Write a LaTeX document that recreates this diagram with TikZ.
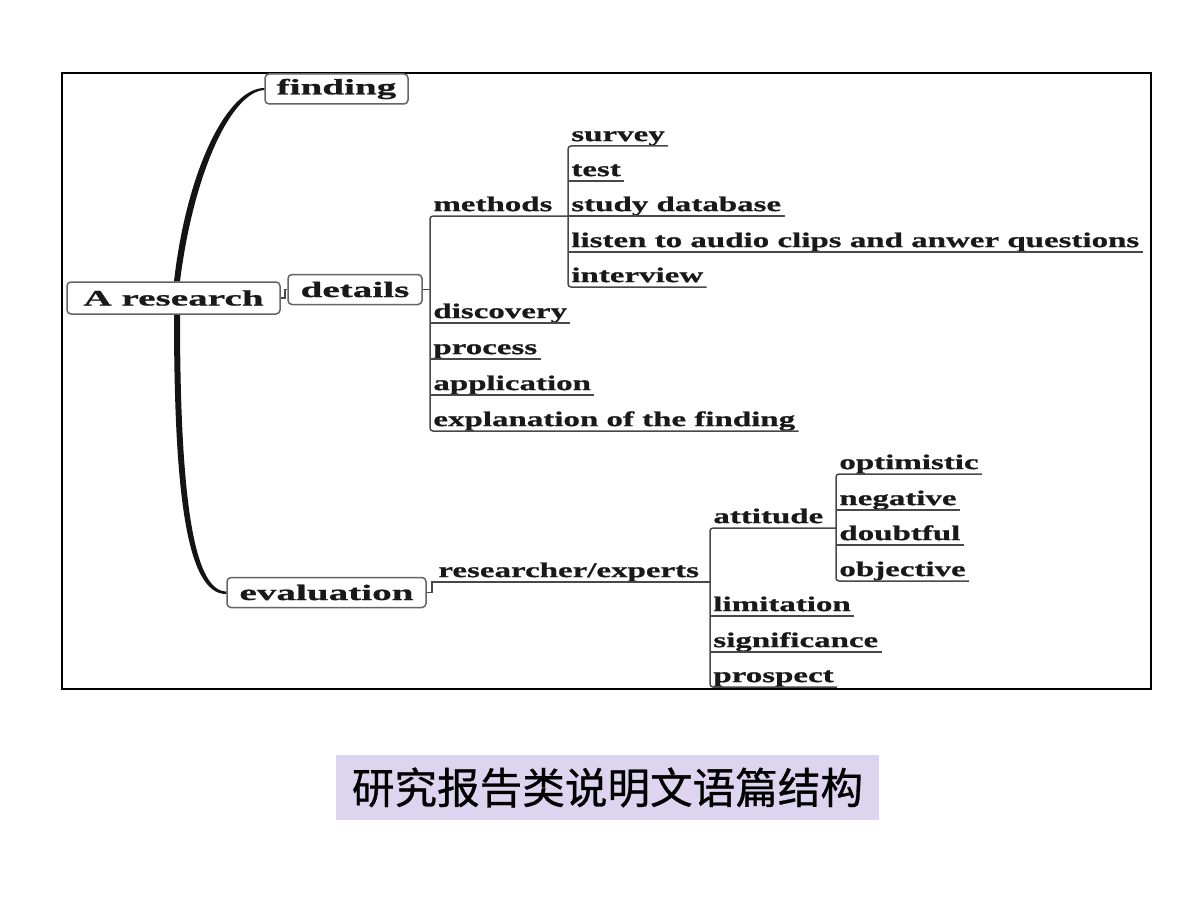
\documentclass[tikz,border=0pt]{standalone}
\usepackage{fontspec}
\newfontfamily\leaffont[FakeStretch=1.57,FakeBold=0.8]{Liberation Serif}
\newfontfamily\topicfont[FakeStretch=1.78,FakeBold=0.8]{Liberation Serif}
\newfontfamily\cjkfont[FakeBold=0.7]{Noto Sans CJK SC}
\usetikzlibrary{calc}
\definecolor{linegray}{RGB}{72,72,72}
\definecolor{boxgray}{RGB}{100,100,100}
\definecolor{captionbg}{RGB}{221,212,239}

\begin{document}
\begin{tikzpicture}[x=0.5pt,y=-0.5pt,
		topic/.style={draw=boxgray, line width=0.75pt, fill=white,
			rounded corners=2pt, minimum height=15pt, inner sep=0pt,
			text=black!90, font=\topicfont\bfseries\fontsize{11}{11}\selectfont},
		leaf/.style={anchor=south west, inner xsep=1.5pt, inner ysep=0pt,
			text depth=2.25pt, text=black!90,
			font=\leaffont\bfseries\fontsize{10.5}{10.5}\selectfont},
		branch/.style={draw=linegray, line width=0.75pt, rounded corners=1.5pt}]
		\useasboundingbox (0,0) rectangle (1200,899);

		\draw[line width=1pt] (62,73) rectangle (1151,689);

		% main topics
		\node[topic, minimum width=71.5pt] (finding) at (336.5,89) {finding};
		\node[topic, minimum width=106.5pt, minimum height=16pt] (research) at (173.5,298) {A research};
		\node[topic, minimum width=67pt] (details) at (355,289.5) {details};
		\node[topic, minimum width=99.5pt] (evaluation) at (326.5,592.5) {evaluation};

		% details
		\node[leaf] (methods) at (430,216) {methods};
		\node[leaf] (discovery) at (430,323) {discovery};
		\node[leaf] (process) at (430,359) {process};
		\node[leaf] (application) at (430,395) {application};
		\node[leaf] (explanation) at (430,431) {explanation of the finding};

		\node[leaf] (survey) at (568,146) {survey};
		\node[leaf] (test) at (568,181) {test};
		\node[leaf] (database) at (568,216) {study database};
		\node[leaf] (audio) at (568,252) {listen to audio clips and anwer questions};
		\node[leaf] (interview) at (568,287) {interview};

		% evaluation
		\node[leaf, inner xsep=3pt] (researcher) at (432,582) {researcher/experts};
		\node[leaf] (attitude) at (710,528) {attitude};
		\node[leaf] (limitation) at (710,616) {limitation};
		\node[leaf] (significance) at (710,652) {significance};
		\node[leaf] (prospect) at (710,687) {prospect};

		\node[leaf] (optimistic) at (836,474) {optimistic};
		\node[leaf] (negative) at (836,510) {negative};
		\node[leaf] (doubtful) at (836,545) {doubtful};
		\node[leaf] (objective) at (836,581) {objective};

		% thick curved branches
		\fill[black!92] ($(research.north)+(0.5,0)$) .. controls (187,168) and (228,88) .. ($(finding.west)+(0,-1)$)
		-- ($(finding.west)+(0,1)$) .. controls (232,92) and (194,170) .. ($(research.north)+(6.5,0)$) -- cycle;
		\fill[black!92] ($(research.south)+(0.5,0)$) .. controls (174,490) and (186,594.5) .. ($(evaluation.west)+(0,1.5)$)
		-- ($(evaluation.west)+(0,-1)$) .. controls (192,591) and (180,488) .. ($(research.south)+(6.5,0)$) -- cycle;

		\draw[branch, rounded corners=0pt] (research.east) -- ++(4,0) |- (details.west);
		\draw[branch] (details.east) -- (details.east -| methods.south west);
		\draw[branch] (methods.south west -| survey.south west) -- (methods.south west)
		-- (explanation.south west) -- (explanation.south east);
		\draw[branch] (survey.south east) -- (survey.south west)
		-- (interview.south west) -- (interview.south east);
		\draw[branch] (test.south west) -- (test.south east)
		(database.south west) -- (database.south east)
		(audio.south west) -- (audio.south east)
		(discovery.south west) -- (discovery.south east)
		(process.south west) -- (process.south east)
		(application.south west) -- (application.south east);

		\draw[branch, rounded corners=0pt] (evaluation.east) -| (researcher.south west)
		-- (researcher.south west -| attitude.south west);
		\draw[branch] (attitude.south west -| optimistic.south west) -- (attitude.south west)
		-- (prospect.south west) -- (prospect.south east);
		\draw[branch] (optimistic.south east) -- (optimistic.south west)
		-- (objective.south west) -- (objective.south east);
		\draw[branch] (negative.south west) -- (negative.south east)
		(doubtful.south west) -- (doubtful.south east)
		(limitation.south west) -- (limitation.south east)
		(significance.south west) -- (significance.south east);

		% caption
		\node[fill=captionbg, minimum width=271.5pt, minimum height=32.5pt,
			font=\cjkfont\fontsize{21.3}{21.3}\selectfont] (caption) at (607.5,787.5) {研究报告类说明文语篇结构};
	\end{tikzpicture}
\end{document}
